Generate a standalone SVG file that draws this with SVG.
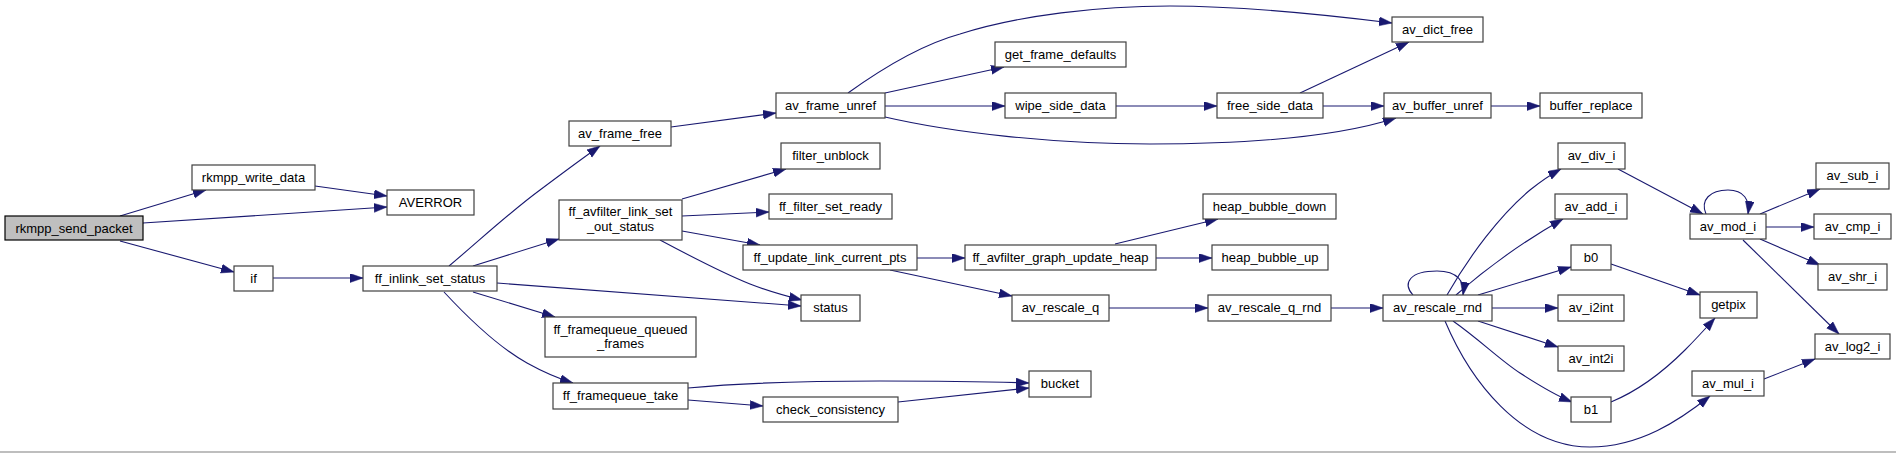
<svg xmlns="http://www.w3.org/2000/svg" width="1896" height="453" viewBox="0 0 1896 453">
<style>
.n rect{fill:#ffffff;stroke:#404040;stroke-width:1.2}
.root rect{fill:#bfbfbf;stroke:#000000;stroke-width:1.2}
text{font-family:"Liberation Sans",Arial,sans-serif;font-size:13px;fill:#000000;text-anchor:middle}
.e path{fill:none;stroke:#191970;stroke-width:1.1;marker-end:url(#ah)}
</style>
<defs>
<marker id="ah" markerUnits="userSpaceOnUse" markerWidth="14" markerHeight="10" refX="13" refY="4.5" orient="auto">
<path d="M0,0 L13,4.5 L0,9 z" fill="#191970" stroke="#191970" stroke-width="0.5"/>
</marker>
</defs>
<rect x="0" y="0" width="1896" height="453" fill="#ffffff"/>
<line x1="0" y1="452" x2="1896" y2="452" stroke="#a8a8a8" stroke-width="1.5"/>

<g id="connectors" class="e">
<path d="M120,216 L206,190"/>
<path d="M315,186 L387,196"/>
<path d="M143,223 L387,207"/>
<path d="M120,241 L234,272"/>
<path d="M273,278 L363,278"/>
<path d="M449,266 C480,240 510,212 540,190 C560,175 580,160 600,146"/>
<path d="M473,266 L559,239"/>
<path d="M497,283 L801,306"/>
<path d="M473,292 L555,317"/>
<path d="M444,292 C470,320 500,348 527,363 C545,373 560,379 573,383"/>
<path d="M671,127 L776,113"/>
<path d="M848,93 C880,70 920,45 960,34 C1020,15 1100,6 1170,6 C1240,6 1320,14 1392,23"/>
<path d="M885,93 L1004,67"/>
<path d="M885,106 L1005,106"/>
<path d="M885,117 C950,132 1050,144 1150,144 C1250,144 1340,136 1396,118"/>
<path d="M1116,106 L1217,106"/>
<path d="M1300,93 L1409,42"/>
<path d="M1323,106 L1384,106"/>
<path d="M1491,106 L1540,106"/>
<path d="M682,199 L786,169"/>
<path d="M682,216 L769,212"/>
<path d="M682,231 L760,245"/>
<path d="M660,240 C690,256 720,272 750,284 C768,291 786,296 802,300"/>
<path d="M917,258 L965,258"/>
<path d="M890,270 L1012,296"/>
<path d="M1115,244 L1218,219"/>
<path d="M1156,258 L1212,258"/>
<path d="M1109,308 L1208,308"/>
<path d="M1331,308 L1383,308"/>
<path d="M688,388 C730,384 800,381 880,381 C950,381 1000,382 1029,383"/>
<path d="M688,400 L763,406"/>
<path d="M898,402 L1029,388"/>
<path d="M1413,295 C1402,283 1410,271 1437,271 C1458,271 1465,282 1463,295"/>
<path d="M1447,295 C1470,255 1500,215 1530,190 C1540,182 1550,175 1561,169"/>
<path d="M1456,295 Q1505,252 1563,219"/>
<path d="M1478,295 L1571,267"/>
<path d="M1492,308 L1558,308"/>
<path d="M1478,321 L1558,347"/>
<path d="M1453,321 C1480,340 1500,360 1520,373 C1540,386 1555,395 1572,402"/>
<path d="M1445,321 C1470,380 1520,447 1590,447 C1640,447 1680,420 1710,396"/>
<path d="M1618,169 L1703,214"/>
<path d="M1706,214 C1700,200 1710,190 1728,190 C1744,190 1750,200 1748,214"/>
<path d="M1760,214 L1820,189"/>
<path d="M1766,227 L1814,227"/>
<path d="M1760,239 L1820,265"/>
<path d="M1743,240 L1839,334"/>
<path d="M1611,264 L1700,295"/>
<path d="M1611,402 C1640,390 1665,370 1685,350 C1695,340 1706,328 1715,318"/>
<path d="M1764,379 L1815,359"/>
</g>

<g id="node-rkmpp_send_packet" class="root"><rect x="5" y="216" width="138" height="24"/><text x="74" y="232.5">rkmpp_send_packet</text></g>
<g id="node-rkmpp_write_data" class="n"><rect x="192" y="165" width="123" height="25"/><text x="253.5" y="182">rkmpp_write_data</text></g>
<g id="node-AVERROR" class="n"><rect x="387" y="190" width="87" height="25"/><text x="430.5" y="207">AVERROR</text></g>
<g id="node-if" class="n"><rect x="234" y="266" width="39" height="25"/><text x="253.5" y="283">if</text></g>
<g id="node-ff_inlink_set_status" class="n"><rect x="363" y="266" width="134" height="25"/><text x="430" y="283">ff_inlink_set_status</text></g>
<g id="node-av_frame_free" class="n"><rect x="569" y="121" width="102" height="25"/><text x="620" y="138">av_frame_free</text></g>
<g id="node-ff_avfilter_link_set_out_status" class="n"><rect x="559" y="200" width="123" height="40"/><text x="620.5" y="216">ff_avfilter_link_set</text><text x="620.5" y="231">_out_status</text></g>
<g id="node-ff_framequeue_queued_frames" class="n"><rect x="545" y="317" width="151" height="40"/><text x="620.5" y="334">ff_framequeue_queued</text><text x="620.5" y="348">_frames</text></g>
<g id="node-ff_framequeue_take" class="n"><rect x="553" y="383" width="135" height="26"/><text x="620.5" y="400">ff_framequeue_take</text></g>
<g id="node-av_frame_unref" class="n"><rect x="776" y="93" width="109" height="25"/><text x="830.5" y="110">av_frame_unref</text></g>
<g id="node-filter_unblock" class="n"><rect x="781" y="143" width="99" height="26"/><text x="830.5" y="160">filter_unblock</text></g>
<g id="node-ff_filter_set_ready" class="n"><rect x="769" y="194" width="123" height="25"/><text x="830.5" y="211">ff_filter_set_ready</text></g>
<g id="node-ff_update_link_current_pts" class="n"><rect x="743" y="245" width="174" height="25"/><text x="830" y="262">ff_update_link_current_pts</text></g>
<g id="node-status" class="n"><rect x="801" y="295" width="59" height="26"/><text x="830.5" y="312">status</text></g>
<g id="node-check_consistency" class="n"><rect x="763" y="397" width="135" height="25"/><text x="830.5" y="414">check_consistency</text></g>
<g id="node-get_frame_defaults" class="n"><rect x="995" y="42" width="131" height="25"/><text x="1060.5" y="59">get_frame_defaults</text></g>
<g id="node-wipe_side_data" class="n"><rect x="1005" y="93" width="111" height="25"/><text x="1060.5" y="110">wipe_side_data</text></g>
<g id="node-ff_avfilter_graph_update_heap" class="n"><rect x="965" y="245" width="191" height="25"/><text x="1060.5" y="262">ff_avfilter_graph_update_heap</text></g>
<g id="node-av_rescale_q" class="n"><rect x="1012" y="295" width="97" height="26"/><text x="1060.5" y="312">av_rescale_q</text></g>
<g id="node-bucket" class="n"><rect x="1029" y="371" width="62" height="26"/><text x="1060" y="388">bucket</text></g>
<g id="node-free_side_data" class="n"><rect x="1217" y="93" width="106" height="25"/><text x="1270" y="110">free_side_data</text></g>
<g id="node-heap_bubble_down" class="n"><rect x="1203" y="194" width="133" height="25"/><text x="1269.5" y="211">heap_bubble_down</text></g>
<g id="node-heap_bubble_up" class="n"><rect x="1212" y="245" width="116" height="25"/><text x="1270" y="262">heap_bubble_up</text></g>
<g id="node-av_rescale_q_rnd" class="n"><rect x="1208" y="295" width="123" height="26"/><text x="1269.5" y="312">av_rescale_q_rnd</text></g>
<g id="node-av_dict_free" class="n"><rect x="1392" y="17" width="91" height="25"/><text x="1437.5" y="34">av_dict_free</text></g>
<g id="node-av_buffer_unref" class="n"><rect x="1384" y="93" width="107" height="25"/><text x="1437.5" y="110">av_buffer_unref</text></g>
<g id="node-av_rescale_rnd" class="n"><rect x="1383" y="295" width="109" height="26"/><text x="1437.5" y="312">av_rescale_rnd</text></g>
<g id="node-buffer_replace" class="n"><rect x="1540" y="93" width="102" height="25"/><text x="1591" y="110">buffer_replace</text></g>
<g id="node-av_div_i" class="n"><rect x="1558" y="143" width="67" height="26"/><text x="1591.5" y="160">av_div_i</text></g>
<g id="node-av_add_i" class="n"><rect x="1555" y="194" width="72" height="25"/><text x="1591" y="211">av_add_i</text></g>
<g id="node-b0" class="n"><rect x="1571" y="245" width="40" height="25"/><text x="1591" y="262">b0</text></g>
<g id="node-av_i2int" class="n"><rect x="1558" y="295" width="66" height="26"/><text x="1591" y="312">av_i2int</text></g>
<g id="node-av_int2i" class="n"><rect x="1558" y="346" width="66" height="25"/><text x="1591" y="363">av_int2i</text></g>
<g id="node-b1" class="n"><rect x="1571" y="397" width="40" height="25"/><text x="1591" y="414">b1</text></g>
<g id="node-av_mod_i" class="n"><rect x="1690" y="214" width="76" height="25"/><text x="1728" y="231">av_mod_i</text></g>
<g id="node-getpix" class="n"><rect x="1700" y="292" width="57" height="26"/><text x="1728.5" y="309">getpix</text></g>
<g id="node-av_mul_i" class="n"><rect x="1692" y="371" width="72" height="25"/><text x="1728" y="388">av_mul_i</text></g>
<g id="node-av_sub_i" class="n"><rect x="1816" y="163" width="73" height="26"/><text x="1852.5" y="180">av_sub_i</text></g>
<g id="node-av_cmp_i" class="n"><rect x="1814" y="214" width="77" height="25"/><text x="1852.5" y="231">av_cmp_i</text></g>
<g id="node-av_shr_i" class="n"><rect x="1818" y="264" width="69" height="26"/><text x="1852.5" y="281">av_shr_i</text></g>
<g id="node-av_log2_i" class="n"><rect x="1815" y="334" width="75" height="25"/><text x="1852.5" y="351">av_log2_i</text></g>
</svg>
